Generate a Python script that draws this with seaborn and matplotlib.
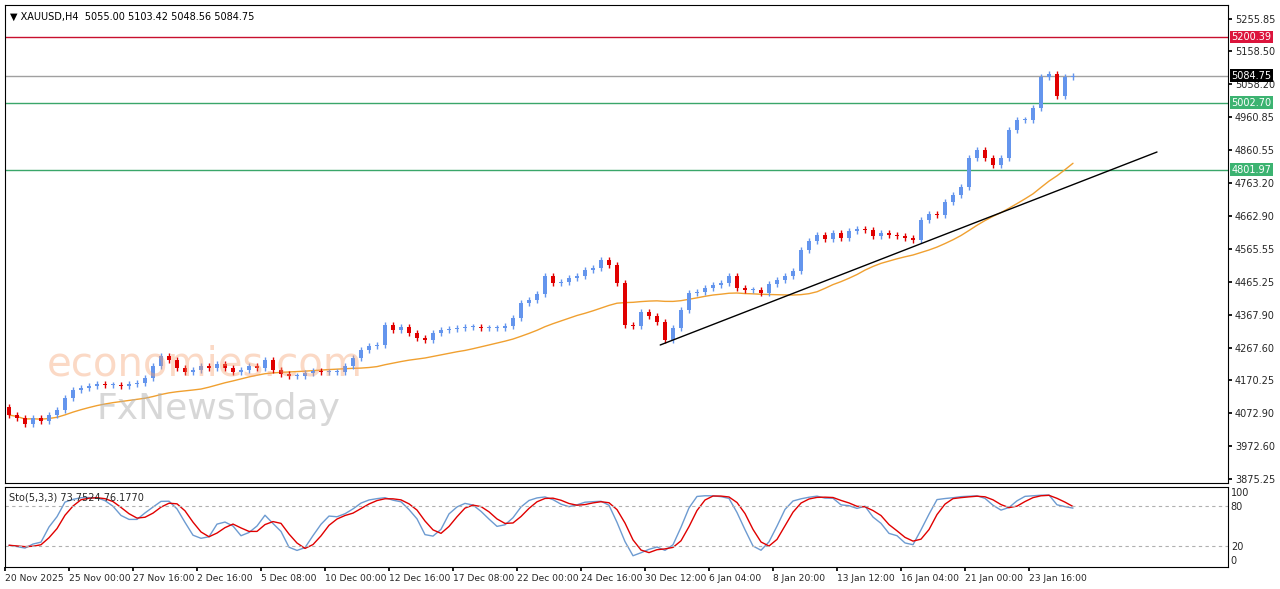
import numpy as np
import pandas as pd
import matplotlib
matplotlib.use("Agg")
import matplotlib.pyplot as plt
import seaborn as sns

sns.set_theme(style="white")
plt.rcParams['font.family'] = ['DejaVu Sans']

closes = [4066.5, 4057.5, 4039.5, 4057.5, 4048.5, 4066.5, 4081.5, 4117.5, 4141.5, 4147.5,
          4153.5, 4159.5, 4156.5, 4156.5, 4153.5, 4159.5, 4162.5, 4177.5, 4213.5, 4243.5,
          4231.5, 4207.5, 4195.5, 4201.5, 4213.5, 4207.5, 4219.5, 4207.5, 4195.5, 4201.5,
          4213.5, 4207.5, 4231.5, 4201.5, 4189.5, 4183.5, 4183.5, 4192.5, 4198.5, 4195.5,
          4195.5, 4195.5, 4213.5, 4237.5, 4261.5, 4273.5, 4276.5, 4336.5, 4321.5, 4330.5,
          4312.5, 4297.5, 4291.5, 4312.5, 4321.5, 4324.5, 4327.5, 4330.5, 4330.5, 4327.5,
          4327.5, 4327.5, 4333.5, 4357.5, 4402.5, 4411.5, 4429.5, 4483.5, 4462.5, 4465.5,
          4477.5, 4483.5, 4501.5, 4507.5, 4531.5, 4516.5, 4462.5, 4336.5, 4333.5, 4375.5,
          4363.5, 4345.5, 4291.5, 4327.5, 4381.5, 4432.5, 4435.5, 4447.5, 4456.5, 4462.5,
          4483.5, 4447.5, 4441.5, 4441.5, 4432.5, 4459.5, 4471.5, 4483.5, 4498.5, 4561.5,
          4588.5, 4606.5, 4594.5, 4612.5, 4597.5, 4618.5, 4624.5, 4621.5, 4603.5, 4612.5,
          4606.5, 4603.5, 4597.5, 4591.5, 4651.5, 4669.5, 4666.5, 4705.5, 4726.5, 4750.5,
          4837.5, 4861.5, 4837.5, 4816.5, 4837.5, 4921.5, 4951.5, 4951.5, 4987.5, 5080.5,
          5089.5, 5023.5, 5080.5, 5084.75]
first_open = 4090.0
wick = 9.0

tick_labels = ["20 Nov 2025", "25 Nov 00:00", "27 Nov 16:00", "2 Dec 16:00", "5 Dec 08:00",
               "10 Dec 00:00", "12 Dec 16:00", "17 Dec 08:00", "22 Dec 00:00", "24 Dec 16:00",
               "30 Dec 12:00", "6 Jan 04:00", "8 Jan 20:00", "13 Jan 12:00", "16 Jan 04:00",
               "21 Jan 00:00", "23 Jan 16:00"]
price_ticks = [5255.85, 5158.50, 5058.20, 4960.85, 4860.55, 4763.20, 4662.90, 4565.55,
               4465.25, 4367.90, 4267.60, 4170.25, 4072.90, 3972.60, 3875.25]
levels = [5200.39, 5084.75, 5002.70, 4801.97]
level_colors = ["#c8102e", "#a0a0a0", "#3aa66a", "#3aa66a"]
label_bg = ["#dc143c", "#000000", "#3cb371", "#3cb371"]
trend_pts = ([81.4, 143.5], [4276.5, 4855.5])

c = np.array(closes)
o = np.concatenate([[first_open], c[:-1]])
h = np.maximum(o, c) + wick
l = np.minimum(o, c) - wick
n = len(c)
x = np.arange(n)
df = pd.DataFrame({"x": x, "o": o, "c": c, "h": h, "l": l})
df["ma"] = df["c"].rolling(25, min_periods=1).mean()
ll = df["l"].rolling(5, min_periods=1).min()
hh = df["h"].rolling(5, min_periods=1).max()
rawk = (df["c"] - ll) / (hh - ll) * 100
df["k"] = rawk.rolling(3, min_periods=1).mean()
df["d"] = df["k"].rolling(3, min_periods=1).mean()

W, H = 1280, 589
fig = plt.figure(figsize=(12.8, 5.89), dpi=100)
fig.patch.set_facecolor("white")
ax = fig.add_axes([5 / W, 1 - 483 / H, 1223 / W, 478 / H])
ax2 = fig.add_axes([5 / W, 1 - 567 / H, 1223 / W, 80 / H], sharex=ax)

fig.text(205 / W, 1 - 364 / H, "economies.com", fontsize=29, color="#f5a070",
         alpha=0.4, ha="center", va="center", zorder=0)
fig.text(218 / W, 1 - 409 / H, "FxNewsToday", fontsize=26, color="#b0b0b0", alpha=0.5,
         ha="center", va="center", zorder=0)
ax.patch.set_alpha(0)

up = "#6495ed"
dn = "#e00000"
cols = np.where(df["c"] >= df["o"], up, dn)
ax.vlines(df["x"], df["l"], df["h"], colors=cols, lw=1, zorder=3)
ax.bar(df["x"], (df["c"] - df["o"]).abs().clip(lower=1.5), bottom=np.minimum(df["o"], df["c"]),
       width=0.6, color=cols, zorder=4, linewidth=0)
sns.lineplot(data=df, x="x", y="ma", ax=ax, color="#f0a030", lw=1, zorder=2)
ax.plot(trend_pts[0], trend_pts[1], color="black", lw=1, zorder=5)
for lv, lc, bg in zip(levels, level_colors, label_bg):
    ax.axhline(lv, color=lc, lw=1, zorder=1)
    ax.text(1.003, lv, f"{lv:.2f}", transform=ax.get_yaxis_transform(), fontsize=7,
            color="white", va="center", ha="left",
            bbox=dict(boxstyle="square,pad=0.15", fc=bg, ec="none"), zorder=10)

ax.text(0.004, 0.985, "▼ XAUUSD,H4  5055.00 5103.42 5048.56 5084.75", transform=ax.transAxes,
        fontsize=7, va="top", ha="left", color="black")

xmax = 1223 / 8 - 0.5
ax.set_xlim(-0.5, xmax)
ax.set_ylim(3862.5, 5296.5)
ax.yaxis.tick_right()
ax.set_yticks(price_ticks)
ax.set_yticklabels([f"{p:.2f}" for p in price_ticks], fontsize=7)
ax.tick_params(axis="y", length=3, pad=2, right=True, direction="out", color="black")
ax.tick_params(axis="x", bottom=False, labelbottom=False)
ax.set_xlabel("")
ax.set_ylabel("")

sns.lineplot(data=df, x="x", y="k", ax=ax2, color="#6d9bd1", lw=1)
sns.lineplot(data=df, x="x", y="d", ax=ax2, color="#e00000", lw=1)
for lv in [80, 20]:
    ax2.axhline(lv, color="#b0b0b0", lw=0.8, ls=(0, (3, 3)))
ax2.set_ylim(-10.3, 107.4)
ax2.yaxis.tick_right()
ax2.set_yticks([100, 80, 20, 0])
ax2.set_yticklabels(["100", "80", "20", "0"], fontsize=7)
ax2.tick_params(axis="y", length=0, pad=2)
ax2.set_xticks(np.arange(len(tick_labels)) * 8 - 0.5)
ax2.set_xticklabels(tick_labels, fontsize=6.6, ha="left")
ax2.tick_params(axis="x", length=3, pad=2, bottom=True, direction="out", color="black")
ax2.set_xlabel("")
ax2.set_ylabel("")
ax2.text(0.003, 0.93, "Sto(5,3,3) 73.7524 76.1770", transform=ax2.transAxes, fontsize=7,
         va="top", ha="left")

for a in (ax, ax2):
    for s in a.spines.values():
        s.set_color("black")
        s.set_linewidth(0.8)

fig.savefig("out.png", dpi=100)
